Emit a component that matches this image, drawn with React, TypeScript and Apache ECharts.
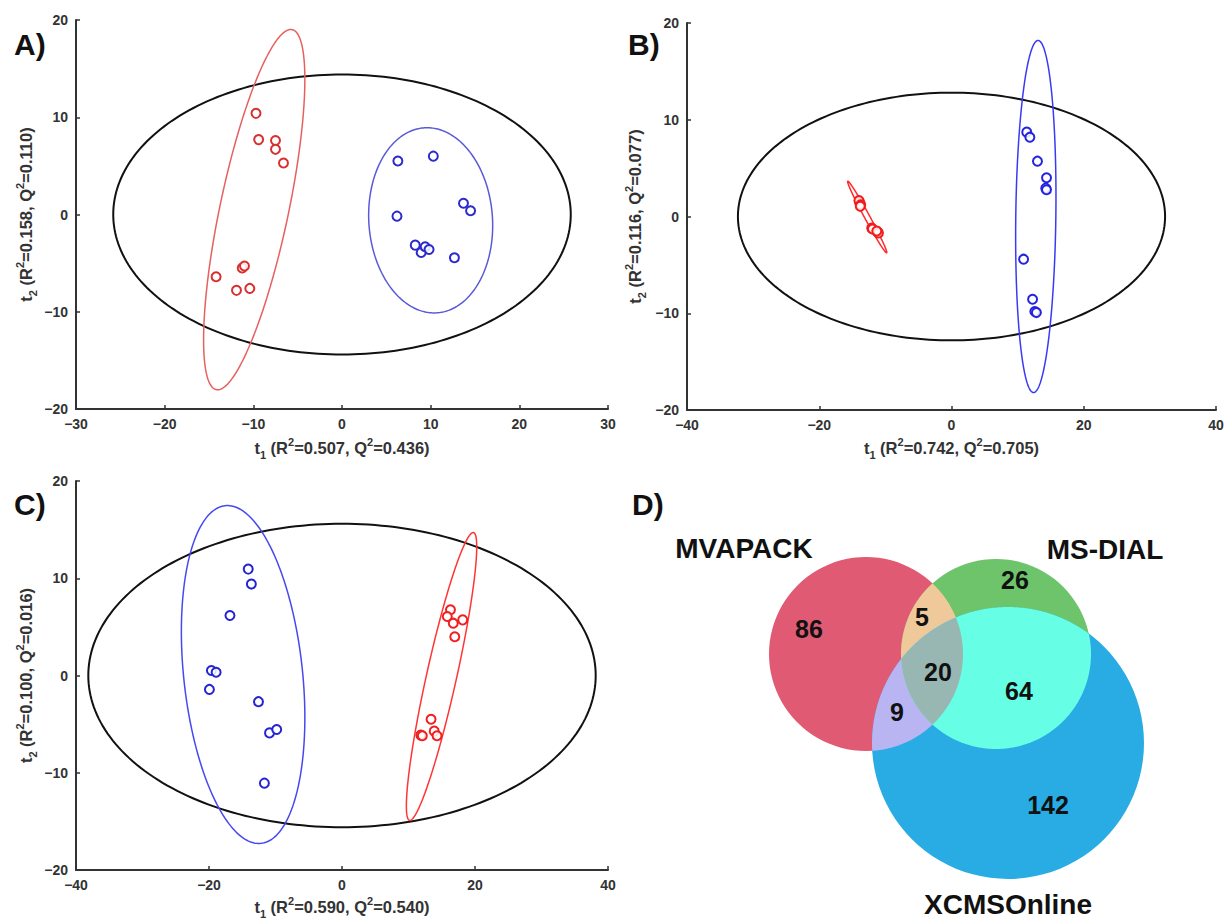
import React, { useEffect, useRef } from "react";
import * as echarts from "echarts";

// ---------- Panel A (t1 vs t2 scores) ----------
const aRed: number[][] = [
  [-9.7, 10.4], [-9.4, 7.7], [-7.5, 7.6], [-7.5, 6.7], [-6.6, 5.3],
  [-11.25, -5.5], [-11.0, -5.3], [-14.2, -6.4], [-11.9, -7.8], [-10.4, -7.6],
];
const aBlue: number[][] = [
  [6.3, 5.5], [10.3, 6.0], [13.7, 1.16], [14.5, 0.38], [6.2, -0.17],
  [8.26, -3.15], [8.93, -3.9], [9.38, -3.32], [9.82, -3.6], [12.68, -4.45],
];
// ellipse params: [cx, cy, semiMajor, semiMinor, angleDeg]
const aEllipseAll = [0, 0, 25.8, 14.4, 0];
const aEllipseRed = [-9.9, 0.5, 19.0, 3.85, 76.9];
const aEllipseBlue = [10.0, -0.6, 9.54, 6.97, 95.1];
const aXName = ["0.507", "0.436"];
const aYName = ["0.158", "0.110"];

// ---------- Panel B ----------
const bRed: number[][] = [
  [-13.94, 1.55], [-13.85, 1.35], [-14.0, 1.65], [-13.73, 1.21], [-13.8, 1.05],
  [-12.07, -1.2], [-11.95, -1.3], [-11.16, -1.6], [-11.05, -1.7], [-11.3, -1.5],
];
const bBlue: number[][] = [
  [11.38, 8.72], [11.85, 8.2], [13.0, 5.72], [14.37, 4.0], [14.25, 2.93],
  [14.37, 2.76], [10.9, -4.41], [12.26, -8.55], [12.6, -9.83], [12.84, -9.93],
];
const bEllipseAll = [0, 0, 32.3, 12.8, 0];
const bEllipseRed = [-12.75, -0.05, 4.73, 0.35, 128.6];
const bEllipseBlue = [12.75, 0, 18.2, 3.03, 88.9];
const bXName = ["0.742", "0.705"];
const bYName = ["0.116", "0.077"];

// ---------- Panel C ----------
const cRed: number[][] = [
  [16.31, 6.75], [15.83, 6.06], [16.73, 5.38], [18.15, 5.72], [16.96, 3.99],
  [13.39, -4.5], [11.85, -6.13], [12.08, -6.2], [13.87, -5.72], [14.29, -6.2],
];
const cBlue: number[][] = [
  [-14.1, 10.94], [-13.63, 9.4], [-16.85, 6.17], [-19.64, 0.51], [-18.93, 0.34],
  [-19.94, -1.43], [-12.56, -2.69], [-10.9, -5.9], [-9.82, -5.55], [-11.67, -11.07],
];
const cEllipseAll = [0, 0, 38.15, 15.6, 0];
const cEllipseRed = [14.97, -0.1, 15.56, 2.2, 71.8];
const cEllipseBlue = [-14.87, 0.1, 17.59, 8.87, 100.4];
const cXName = ["0.590", "0.540"];
const cYName = ["0.100", "0.016"];

// ---------- Panel D (Venn) ----------
const vennSets = ["MVAPACK", "MS-DIAL", "XCMSOnline"];
const vennRegionKeys = ["A", "B", "C", "AB", "AC", "BC", "ABC"];
const vennCounts = [86, 26, 142, 5, 9, 64, 20];

const FONT = "Liberation Sans, Arial, Helvetica, sans-serif";
const TXT = "#333";

const fmt = (v: number) => (v < 0 ? "\u2212" + Math.abs(v) : String(v));

const richName = {
  t: { fontSize: 16.5, fontWeight: "bold", color: TXT, fontFamily: FONT, lineHeight: 24 },
  sub: { fontSize: 11, fontWeight: "bold", color: TXT, fontFamily: FONT, lineHeight: 13, verticalAlign: "bottom" },
  sup: { fontSize: 11, fontWeight: "bold", color: TXT, fontFamily: FONT, lineHeight: 13, verticalAlign: "top" },
};

const axisName = (idx: string, vals: string[]) =>
  `{t|t}{sub|${idx}}{t| (R}{sup|2}{t|=${vals[0]}, Q}{sup|2}{t|=${vals[1]})}`;

function makeAxis(kind: "x" | "y", gi: number, min: number, max: number, interval: number, name: string, gap: number) {
  return {
    type: "value",
    gridIndex: gi,
    min,
    max,
    interval,
    name,
    nameLocation: "middle",
    nameGap: gap,
    nameRotate: kind === "y" ? 90 : 0,
    nameTextStyle: { rich: richName },
    axisLine: { show: true, onZero: false, lineStyle: { color: "#333", width: 2 } },
    axisTick: { show: true, inside: true, length: 4, lineStyle: { color: "#333", width: 1.5 } },
    axisLabel: { color: TXT, fontSize: 14, fontWeight: "bold", fontFamily: FONT, margin: 8, formatter: fmt },
    splitLine: { show: false },
  };
}

function ellipseSeries(p: number[], color: string, width: number, gi: number) {
  return {
    type: "custom",
    xAxisIndex: gi,
    yAxisIndex: gi,
    silent: true,
    z: 2,
    data: [p],
    renderItem: (_params: any, api: any) => {
      const cx = api.value(0), cy = api.value(1), a = api.value(2), b = api.value(3);
      const ang = (api.value(4) * Math.PI) / 180;
      const pts: number[][] = [];
      const N = 240;
      for (let k = 0; k <= N; k++) {
        const t = (2 * Math.PI * k) / N;
        const x = cx + a * Math.cos(ang) * Math.cos(t) - b * Math.sin(ang) * Math.sin(t);
        const y = cy + a * Math.sin(ang) * Math.cos(t) + b * Math.cos(ang) * Math.sin(t);
        pts.push(api.coord([x, y]));
      }
      return { type: "polyline", shape: { points: pts }, style: { stroke: color, lineWidth: width, fill: null } };
    },
  };
}

function scatterSeries(data: number[][], color: string, gi: number) {
  return {
    type: "scatter",
    xAxisIndex: gi,
    yAxisIndex: gi,
    data,
    symbol: "circle",
    symbolSize: 9,
    z: 3,
    itemStyle: { color: "rgba(255,255,255,0.85)", borderColor: color, borderWidth: 2, opacity: 1 },
  };
}

// Venn layout (pixels)
const vennCircles: number[][] = [
  [866, 654, 97],
  [996, 654, 95],
  [1008, 743, 136],
];
const vennColors = ["#E05A73", "#6DC46A", "#29ACE3"];
const vennLensColors: Record<string, string> = { AB: "#EFC99A", AC: "#B9B5F2", BC: "#66FFE6", ABC: "#98B7B2" };
const vennLabelPos: Record<string, number[]> = {
  A: [809, 629], B: [1015, 580], C: [1048, 805], AB: [922, 617], AC: [897, 712], BC: [1019, 691], ABC: [938, 672],
};
const vennSetLabelPos = [[744, 548], [1105, 549], [1008, 904]];

function regionPolygon(circles: number[][]): number[][] {
  const pts: number[][] = [];
  const N = 720;
  circles.forEach((c, i) => {
    for (let k = 0; k < N; k++) {
      const t = (2 * Math.PI * k) / N;
      const x = c[0] + c[2] * Math.cos(t);
      const y = c[1] + c[2] * Math.sin(t);
      if (circles.every((d, j) => j === i || (x - d[0]) ** 2 + (y - d[1]) ** 2 <= d[2] * d[2] + 1e-6)) pts.push([x, y]);
    }
  });
  let mx = 0, my = 0;
  pts.forEach((p) => { mx += p[0]; my += p[1]; });
  mx /= pts.length; my /= pts.length;
  pts.sort((p, q) => Math.atan2(p[1] - my, p[0] - mx) - Math.atan2(q[1] - my, q[0] - mx));
  return pts;
}

export default function App() {
  const ref = useRef<HTMLDivElement>(null);
  useEffect(() => {
    if (!ref.current) return;
    const chart = echarts.init(ref.current, null, { renderer: "svg" });

    const graphic: any[] = [];
    const panelLabels = [["A)", 14, 44], ["B)", 628, 44], ["C)", 14, 504], ["D)", 632, 504]];
    panelLabels.forEach(([t, x, y]) => {
      graphic.push({
        type: "text", x, y, z: 10,
        style: { text: t, font: `bold 30px ${FONT}`, fill: "#111", textVerticalAlign: "middle", textAlign: "left" },
      });
    });
    // Venn circles
    vennCircles.forEach((c, i) => {
      graphic.push({ type: "circle", z: 1, shape: { cx: c[0], cy: c[1], r: c[2] }, style: { fill: vennColors[i], stroke: null } });
    });
    const idx: Record<string, number> = { A: 0, B: 1, C: 2 };
    ["AB", "AC", "BC", "ABC"].forEach((key, k) => {
      const cs = key.split("").map((ch) => vennCircles[idx[ch]]);
      graphic.push({ type: "polygon", z: 2 + k, shape: { points: regionPolygon(cs) }, style: { fill: vennLensColors[key], stroke: null } });
    });
    vennRegionKeys.forEach((key, i) => {
      const [x, y] = vennLabelPos[key];
      graphic.push({
        type: "text", x, y, z: 10,
        style: { text: String(vennCounts[i]), font: `bold 25px ${FONT}`, fill: "#111", textAlign: "center", textVerticalAlign: "middle" },
      });
    });
    vennSets.forEach((s, i) => {
      const [x, y] = vennSetLabelPos[i];
      graphic.push({
        type: "text", x, y, z: 10,
        style: { text: s, font: `bold 28px ${FONT}`, fill: "#111", textAlign: "center", textVerticalAlign: "middle" },
      });
    });

    const option: any = {
      animation: false,
      backgroundColor: "#fff",
      grid: [
        { left: 76, top: 20, width: 532, height: 389 },
        { left: 687, top: 23, width: 529, height: 387 },
        { left: 76, top: 481, width: 532, height: 391 },
      ],
      xAxis: [
        makeAxis("x", 0, -30, 30, 10, axisName("1", aXName), 27),
        makeAxis("x", 1, -40, 40, 20, axisName("1", bXName), 26),
        makeAxis("x", 2, -40, 40, 20, axisName("1", cXName), 25),
      ],
      yAxis: [
        makeAxis("y", 0, -20, 20, 10, axisName("2", aYName), 38),
        makeAxis("y", 1, -20, 20, 10, axisName("2", bYName), 40),
        makeAxis("y", 2, -20, 20, 10, axisName("2", cYName), 38),
      ],
      series: [
        ellipseSeries(aEllipseAll, "#111", 2, 0),
        ellipseSeries(aEllipseRed, "#E66060", 1.5, 0),
        ellipseSeries(aEllipseBlue, "#5A5AD8", 1.5, 0),
        scatterSeries(aRed, "#D92F2F", 0),
        scatterSeries(aBlue, "#2B2BCC", 0),

        ellipseSeries(bEllipseAll, "#111", 2, 1),
        ellipseSeries(bEllipseRed, "#FF2A2A", 1.5, 1),
        ellipseSeries(bEllipseBlue, "#3A3AF5", 1.5, 1),
        scatterSeries(bRed, "#F21C1C", 1),
        scatterSeries(bBlue, "#2424E0", 1),

        ellipseSeries(cEllipseAll, "#111", 2, 2),
        ellipseSeries(cEllipseRed, "#FF3535", 1.5, 2),
        ellipseSeries(cEllipseBlue, "#4848F0", 1.5, 2),
        scatterSeries(cRed, "#F02020", 2),
        scatterSeries(cBlue, "#2424D6", 2),
      ],
      graphic,
    };
    chart.setOption(option);
    return () => chart.dispose();
  }, []);
  return (
    <div
      ref={ref}
      style={{ position: "absolute", left: 0, top: 0, width: 1228, height: 920, background: "#fff" }}
    />
  );
}
